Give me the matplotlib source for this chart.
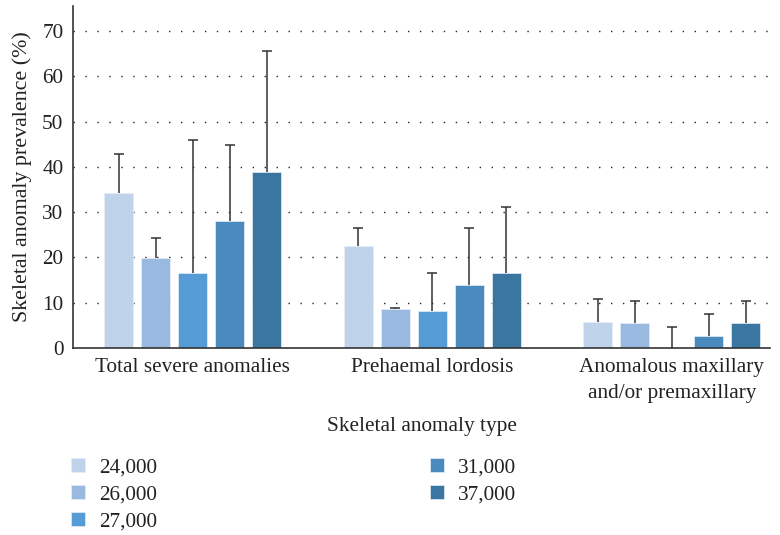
import matplotlib
matplotlib.use("Agg")
import matplotlib.pyplot as plt
import numpy as np

plt.rcParams["font.family"] = ["Liberation Serif", "DejaVu Serif"]

categories = ["Total severe anomalies", "Prehaemal lordosis", "Anomalous maxillary\nand/or premaxillary"]
series_labels = ["24,000", "26,000", "27,000", "31,000", "37,000"]
colors = ["#bfd3eb", "#9ab9e0", "#559bd5", "#4b8abf", "#3b76a3"]

# prevalence (%) per series, one value per category
prevalence = [
    [34.3, 22.6, 5.7],
    [19.9, 8.5, 5.5],
    [16.6, 8.2, 0.0],
    [28.0, 13.8, 2.65],
    [38.8, 16.6, 5.5],
]
# upper end of the error bars (%)
upper = [
    [42.8, 26.5, 10.9],
    [24.3, 8.9, 10.3],
    [45.9, 16.6, 4.7],
    [44.9, 26.5, 7.6],
    [65.6, 31.1, 10.3],
]

FS = 15.3
TXT = "#222222"

fig = plt.figure(figsize=(7.8, 5.35), dpi=100)
ax = fig.add_axes([73 / 780, 1 - 348 / 535, (770 - 73) / 780, (348 - 6) / 535])

x = np.arange(len(categories))
width = 0.121
step = 0.1545
offsets = (np.arange(len(series_labels)) - 2) * step
for i, label in enumerate(series_labels):
    vals = np.array(prevalence[i])
    err = np.array(upper[i]) - vals
    ax.bar(x + offsets[i], vals, width=width, color=colors[i], label=label,
           edgecolor="#e6eef8", linewidth=0.5, zorder=2)
    _, caps, _ = ax.errorbar(x + offsets[i], vals, yerr=[np.zeros_like(err), err], fmt="none",
                             ecolor="#333333", elinewidth=1.1, capsize=3.3, capthick=1.1, zorder=3)
    caps[0].set_visible(False)  # only the upper cap

ax.set_xlim(-0.5, 2.41)
ax.set_ylim(0, 75.5)
ax.set_yticks(range(0, 71, 10))
ax.set_xticks(x)
ax.set_xticklabels(categories, fontsize=FS, color=TXT, linespacing=1.5)
ax.tick_params(axis="both", length=0, labelsize=FS, colors=TXT)
ax.tick_params(axis="x", pad=7)
ax.tick_params(axis="y", pad=7)
for yv in range(10, 71, 10):
    ax.axhline(yv, color="#222222", linewidth=1.0, linestyle=(0, (1, 7.6)), zorder=1)

for side in ["top", "right"]:
    ax.spines[side].set_visible(False)
for side in ["left", "bottom"]:
    ax.spines[side].set_color("#333333")
    ax.spines[side].set_linewidth(1.2)

ax.set_ylabel("Skeletal anomaly prevalence (%)", fontsize=15.8, color=TXT, labelpad=7)
ax.set_xlabel("Skeletal anomaly type", fontsize=FS, color=TXT, labelpad=10)

fig.legend(loc="upper left", bbox_to_anchor=(60 / 780, 1 - 447 / 535), ncol=2,
           frameon=False, fontsize=FS, handlelength=0.66, handleheight=0.66,
           handletextpad=0.7, columnspacing=12.8, labelspacing=0.36, borderpad=0,
           labelcolor=TXT)

fig.savefig("out.png", dpi=100)
